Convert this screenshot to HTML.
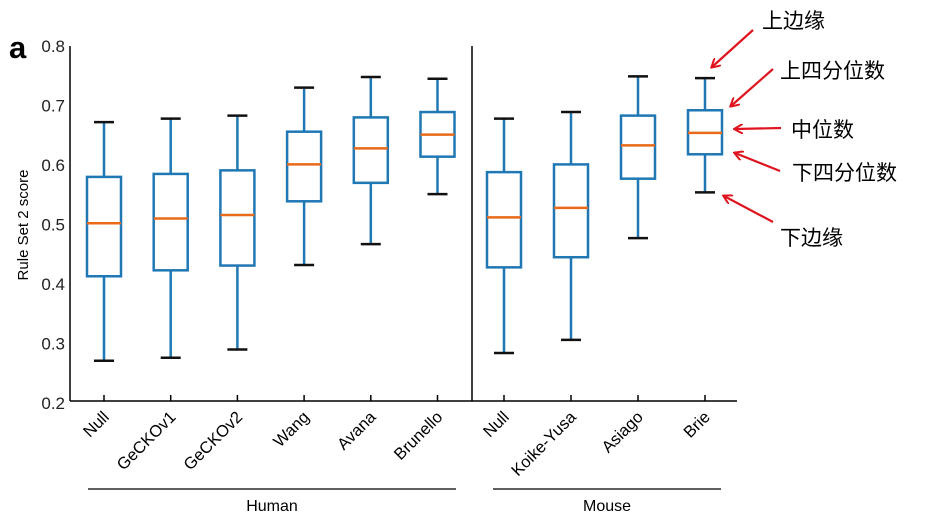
<!DOCTYPE html>
<html><head><meta charset="utf-8"><style>
html,body{margin:0;padding:0;background:#fff;}
svg{display:block;font-family:"Liberation Sans","Noto Sans CJK SC",sans-serif;}
</style></head><body>
<svg id="chart" width="935" height="529" viewBox="0 0 935 529">
<defs><marker id="ah" markerWidth="10" markerHeight="10" refX="8" refY="5" orient="auto" markerUnits="userSpaceOnUse"><path d="M0,0 L9,5 L0,10" fill="none" stroke="#e0141e" stroke-width="2"/></marker></defs>
<text x="9" y="58" font-size="31" font-weight="bold">a</text>
<text transform="translate(28,225) rotate(-90)" text-anchor="middle" font-size="15">Rule Set 2 score</text>
<g id="axes"></g>
<g id="boxes"></g>
<g id="annot"></g>
</svg>
<script>
const categories = ["Null","GeCKOv1","GeCKOv2","Wang","Avana","Brunello","Null","Koike-Yusa","Asiago","Brie"];
const whiskerHigh = [0.672,0.678,0.683,0.730,0.748,0.745,0.678,0.689,0.749,0.746];
const q3Values    = [0.580,0.585,0.591,0.656,0.680,0.689,0.588,0.601,0.683,0.692];
const medians     = [0.502,0.510,0.516,0.601,0.628,0.651,0.512,0.528,0.633,0.654];
const q1Values    = [0.413,0.423,0.431,0.539,0.570,0.614,0.428,0.445,0.577,0.618];
const whiskerLow  = [0.271,0.276,0.290,0.432,0.467,0.551,0.284,0.306,0.477,0.554];
const yTicks = [0.2,0.3,0.4,0.5,0.6,0.7,0.8];

const NS="http://www.w3.org/2000/svg";
function y(v){ return 46 + (0.8 - v) * (357/0.6); }
function x(i){ return i < 6 ? 104 + i*66.7 : 504 + (i-6)*67; }
function mk(tag, attrs, parent){ const e=document.createElementNS(NS,tag); for(const k in attrs) e.setAttribute(k,attrs[k]); parent.appendChild(e); return e; }

const axes=document.getElementById('axes');
let el=mk('line',{x1:70,y1:46,x2:70,y2:401,stroke:'#000','stroke-width':1.5},axes);


el=mk('line',{x1:70,y1:401,x2:737,y2:401,stroke:'#000','stroke-width':1.5},axes);


el=mk('line',{x1:472,y1:46,x2:472,y2:401,stroke:'#000','stroke-width':1.5},axes);


yTicks.forEach(t=>{
  const tx=mk('text',{x:65,y:y(t)+6,'text-anchor':'end','font-size':17,fill:'#222'},axes);
  tx.textContent=t.toFixed(1);
  
  
});
categories.forEach((c,i)=>{
  const xi=x(i);
  const tk=mk('line',{x1:xi,y1:401,x2:xi,y2:395,stroke:'#000','stroke-width':1.5},axes);
  
  
  const tx=mk('text',{transform:`translate(${xi+6},${418}) rotate(-45)`,'text-anchor':'end','font-size':16.5},axes);
  tx.textContent=c;
  
  
});
el=mk('line',{x1:88,y1:489,x2:456,y2:489,stroke:'#000','stroke-width':1.2},axes);


el=mk('line',{x1:493,y1:489,x2:721,y2:489,stroke:'#000','stroke-width':1.2},axes);


el=mk('text',{x:272,y:511,'text-anchor':'middle','font-size':16},axes); el.textContent='Human';


el=mk('text',{x:607,y:511,'text-anchor':'middle','font-size':16},axes); el.textContent='Mouse';



const boxes=document.getElementById('boxes');
const blue='#1f77b4';
categories.forEach((c,i)=>{
  const xi=x(i);
  const g=mk('g',{},boxes);
  
  
  mk('line',{x1:xi,y1:y(whiskerHigh[i]),x2:xi,y2:y(q3Values[i]),stroke:blue,'stroke-width':2.5},g);
  mk('line',{x1:xi,y1:y(q1Values[i]),x2:xi,y2:y(whiskerLow[i]),stroke:blue,'stroke-width':2.5},g);
  mk('line',{x1:xi-10,y1:y(whiskerHigh[i]),x2:xi+10,y2:y(whiskerHigh[i]),stroke:'#111','stroke-width':2.5},g);
  mk('line',{x1:xi-10,y1:y(whiskerLow[i]),x2:xi+10,y2:y(whiskerLow[i]),stroke:'#111','stroke-width':2.5},g);
  mk('rect',{x:xi-17,y:y(q3Values[i]),width:34,height:y(q1Values[i])-y(q3Values[i]),fill:'none',stroke:blue,'stroke-width':2.5},g);
  mk('line',{x1:xi-17,y1:y(medians[i]),x2:xi+17,y2:y(medians[i]),stroke:'#e86a1a','stroke-width':2.5},g);
});

const an=document.getElementById('annot');
const notes=[["上边缘",762,28,[753,30,712,67]],["上四分位数",780,78,[773,69,731,106]],["中位数",791,137,[781,128,735,129]],["下四分位数",792,180,[780,171,735,153]],["下边缘",780,245,[773,222,724,196]]];
notes.forEach(n=>{
  const t=mk('text',{x:n[1],y:n[2],'font-size':21},an); t.textContent=n[0];
  
  
  const a=n[3];
  const l=mk('line',{x1:a[0],y1:a[1],x2:a[2],y2:a[3],stroke:'#e0141e','stroke-width':2.2,'marker-end':'url(#ah)'},an);
  
  
});
</script>
</body></html>
